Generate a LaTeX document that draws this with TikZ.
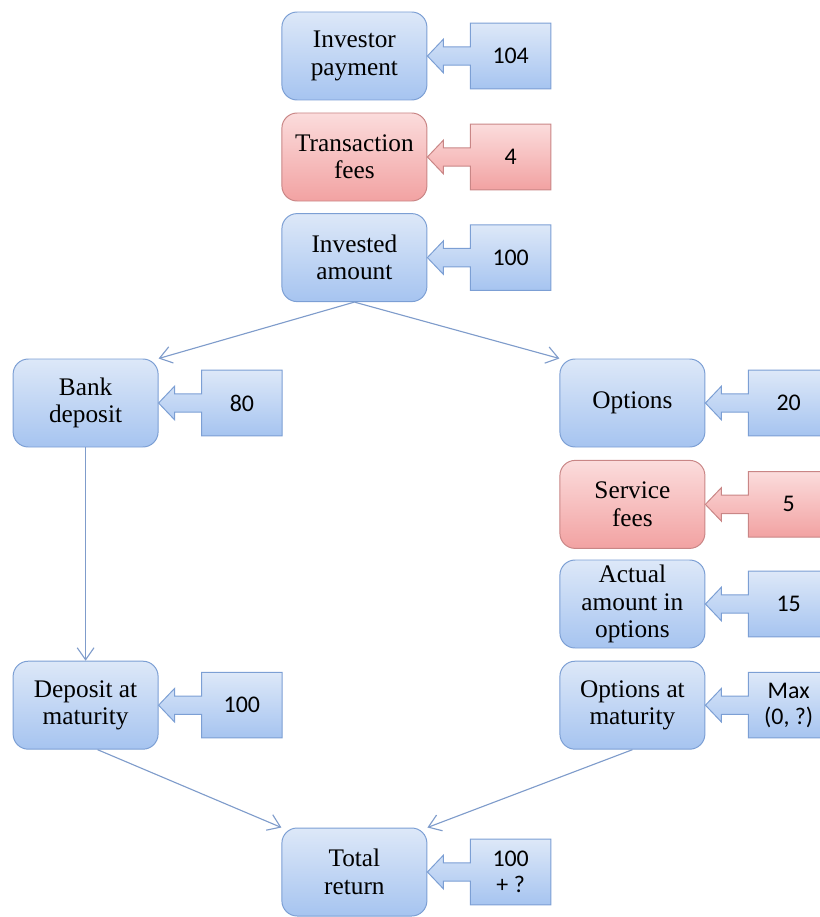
\documentclass[tikz,border=0pt]{standalone}
\usepackage{fontspec}
\setmainfont{Liberation Serif}
\newfontfamily\numfont{Carlito}
\usetikzlibrary{shapes,arrows.meta,positioning,calc}
\definecolor{boxtop}{HTML}{DDE8F8}
\definecolor{boxbot}{HTML}{A6C4F0}
\definecolor{boxline}{HTML}{7C9FD4}
\definecolor{feetop}{HTML}{FBDCDC}
\definecolor{feebot}{HTML}{F2A2A2}
\definecolor{feeline}{HTML}{C98686}
\definecolor{flowline}{HTML}{7F9CCB}
\def\headlen{0.4cm}
\def\headhalf{0.42cm}
\def\shafthalf{0.23cm}

\tikzset{
  stage/.style={draw=boxline, line width=0.7pt, rounded corners=0.38cm,
    top color=boxtop, bottom color=boxbot, minimum width=3.625cm,
    minimum height=2.2cm, align=center, inner sep=0pt,
    font=\fontsize{18}{19.5}\selectfont},
  feestage/.style={stage, draw=feeline, top color=feetop, bottom color=feebot},
  amount/.style={minimum width=2cm, minimum height=1.625cm, align=center,
    inner sep=0pt, font=\numfont\fontsize{17}{18.5}\selectfont},
  flow/.style={draw=flowline, line width=0.8pt,
    -{Straight Barb[length=3mm,width=4.2mm]}}
}

% value box with its arrow into the stage box
\newcommand{\feedin}[3]{%
  \path[draw=#3line, line width=0.7pt, top color=#3top, bottom color=#3bot]
    (#1.north west) -- (#1.north east) -- (#1.south east) -- (#1.south west)
    -- ($(#1.west) + (0,-\shafthalf)$)
    -- ($(#2.east) + (\headlen,-\shafthalf)$)
    -- ($(#2.east) + (\headlen,-\headhalf)$)
    -- (#2.east)
    -- ($(#2.east) + (\headlen,\headhalf)$)
    -- ($(#2.east) + (\headlen,\shafthalf)$)
    -- ($(#1.west) + (0,\shafthalf)$)
    -- cycle;
}

\begin{document}
\begin{tikzpicture}
\useasboundingbox (0,0) rectangle (20.5,-22.925);

% middle column
\node[stage] (pay) at (8.86,-1.4) {Investor\\payment};
\node[feestage] (tfee) at (8.86,-3.925) {Transaction\\fees};
\node[stage] (inv) at (8.86,-6.44) {Invested\\amount};

% left branch
\node[stage] (bank) at (2.14,-10.075) {Bank\\deposit};
\node[stage] (depmat) at (2.14,-17.63) {Deposit at\\maturity};

% right branch
\node[stage] (opt) at (15.81,-10.075) {Options};
\node[feestage] (sfee) at (15.81,-12.61) {Service\\fees};
\node[stage] (act) at (15.81,-15.1) {Actual\\amount in\\options};
\node[stage] (optmat) at (15.81,-17.63) {Options at\\maturity};

\node[stage] (total) at (8.86,-21.8) {Total\\return};

% value boxes
\node[amount, right=1.075cm of pay] (payv) {};
\node[amount, right=1.075cm of tfee] (tfeev) {};
\node[amount, right=1.075cm of inv] (invv) {};
\node[amount, right=1.075cm of bank] (bankv) {};
\node[amount, right=1.075cm of depmat] (depmatv) {};
\node[amount, right=1.075cm of opt] (optv) {};
\node[amount, right=1.075cm of sfee] (sfeev) {};
\node[amount, right=1.075cm of act] (actv) {};
\node[amount, right=1.075cm of optmat] (optmatv) {};
\node[amount, right=1.075cm of total] (totalv) {};

\feedin{payv}{pay}{box}
\feedin{tfeev}{tfee}{fee}
\feedin{invv}{inv}{box}
\feedin{bankv}{bank}{box}
\feedin{depmatv}{depmat}{box}
\feedin{optv}{opt}{box}
\feedin{sfeev}{sfee}{fee}
\feedin{actv}{act}{box}
\feedin{optmatv}{optmat}{box}
\feedin{totalv}{total}{box}

\node[amount] at (payv) {104};
\node[amount] at (tfeev) {4};
\node[amount] at (invv) {100};
\node[amount] at (bankv) {80};
\node[amount] at (depmatv) {100};
\node[amount] at (optv) {20};
\node[amount] at (sfeev) {5};
\node[amount] at (actv) {15};
\node[amount] at (optmatv) {Max\\(0, ?)};
\node[amount] at (totalv) {100\\+ ?};

% connectors
\draw[flow] (inv.south) -- (bank.north east);
\draw[flow] (inv.south) -- (opt.north west);
\draw[flow] (bank.south) -- (depmat.north);
\draw[flow] ($(depmat.south)+(0.3,0)$) -- (total.north west);
\draw[flow] (optmat.south) -- (total.north east);

\end{tikzpicture}
\end{document}
